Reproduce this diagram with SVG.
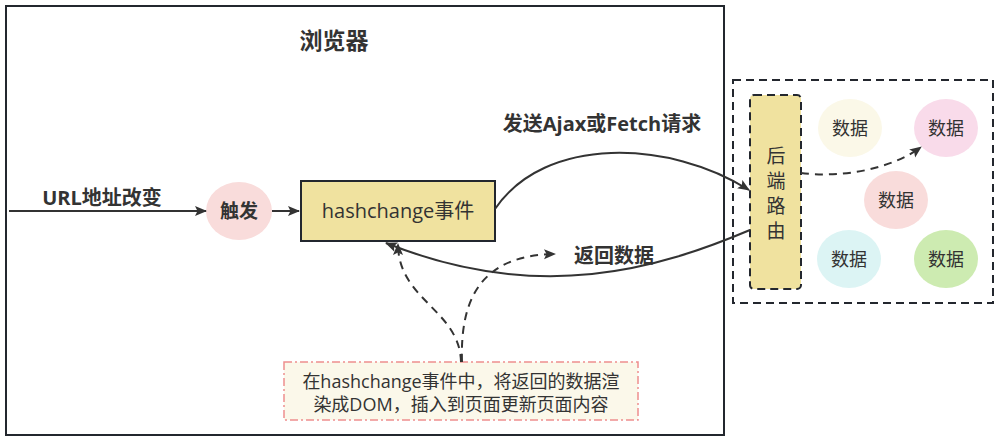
<svg xmlns="http://www.w3.org/2000/svg" width="999" height="441" viewBox="0 0 999 441">
<style>
.t{font-family:"Open Sans","Noto Sans CJK SC",sans-serif;fill:#333;}
.b{font-weight:bold;}
.ln{fill:none;stroke:#333;stroke-width:2;}
.dl{fill:none;stroke:#333;stroke-width:2;stroke-dasharray:8 6;}
.data{stroke:none;}
</style>
<defs>
<marker id="ahb" viewBox="0 0 12 12" refX="11" refY="6" markerWidth="12" markerHeight="12" markerUnits="userSpaceOnUse" orient="auto">
<path d="M0,1 L12,6 L0,11 L2.5,6 Z" fill="#333"/>
</marker>
</defs>
<rect width="999" height="441" fill="#fff"/>
<g id="browser">
<rect x="6" y="6" width="718" height="429" fill="none" stroke="#23272e" stroke-width="2"/>
<text class="t b" x="334" y="49" font-size="23" text-anchor="middle">浏览器</text>
</g>
<g id="backend">
<rect x="733" y="80" width="260" height="223" fill="none" stroke="#23272e" stroke-width="2" stroke-dasharray="8 5"/>
</g>
<g id="trigger">
<ellipse cx="239" cy="211" rx="33" ry="29" fill="#f9dcdb"/>
<text class="t b" x="239" y="218" font-size="19" text-anchor="middle">触发</text>
</g>
<g id="hashchange">
<rect x="301" y="181" width="194" height="60" fill="#f0e29f" stroke="#23272e" stroke-width="2"/>
<text class="t" x="398" y="218" font-size="20" text-anchor="middle">hashchange事件</text>
</g>
<g id="router">
<rect x="750" y="95" width="51" height="194" rx="4" fill="#f0e29f" stroke="#23272e" stroke-width="2" stroke-dasharray="8 5"/>
<text class="t" x="776" y="163" font-size="19" text-anchor="middle">后</text>
<text class="t" x="776" y="188" font-size="19" text-anchor="middle">端</text>
<text class="t" x="776" y="213" font-size="19" text-anchor="middle">路</text>
<text class="t" x="776" y="238" font-size="19" text-anchor="middle">由</text>
</g>
<g id="data1"><ellipse class="data" cx="850" cy="128" rx="32" ry="29" fill="#fbf8e8"/><text class="t" x="850" y="135" font-size="18" text-anchor="middle">数据</text></g>
<g id="data2"><ellipse class="data" cx="946" cy="128" rx="32" ry="29" fill="#f9dbea"/><text class="t" x="946" y="135" font-size="18" text-anchor="middle">数据</text></g>
<g id="data3"><ellipse class="data" cx="896" cy="200" rx="32" ry="29" fill="#f9dcdb"/><text class="t" x="896" y="207" font-size="18" text-anchor="middle">数据</text></g>
<g id="data4"><ellipse class="data" cx="849" cy="259" rx="32" ry="29" fill="#dcf4f4"/><text class="t" x="849" y="266" font-size="18" text-anchor="middle">数据</text></g>
<g id="data5"><ellipse class="data" cx="946" cy="259" rx="32" ry="29" fill="#cdebb1"/><text class="t" x="946" y="266" font-size="18" text-anchor="middle">数据</text></g>
<g id="note">
<rect x="284" y="362" width="354" height="58" fill="#fbf8ea" stroke="#ee8e8e" stroke-width="1.5" stroke-dasharray="8 3 2 3"/>
<text class="t" x="461" y="388" font-size="18" text-anchor="middle">在hashchange事件中，将返回的数据渲</text>
<text class="t" x="461" y="411" font-size="18" text-anchor="middle">染成DOM，插入到页面更新页面内容</text>
</g>
<g id="connectors">
<line class="ln" x1="9" y1="211" x2="206" y2="211" marker-end="url(#ahb)"/>
<text class="t b" x="102" y="205" font-size="20" text-anchor="middle">URL地址改变</text>
<line class="ln" x1="272" y1="211" x2="299" y2="211" marker-end="url(#ahb)"/>
<path class="ln" d="M495,209 C545,135 670,140 749,190" marker-end="url(#ahb)"/>
<text class="t b" x="602" y="131" font-size="20" text-anchor="middle">发送Ajax或Fetch请求</text>
<path class="ln" d="M750,230 C660,268 540,305 386,243" marker-end="url(#ahb)"/>
<text class="t b" x="614" y="263" font-size="20" text-anchor="middle">返回数据</text>
<path class="dl" d="M801,173 C840,178 890,170 921,147" marker-end="url(#ahb)"/>
<path class="dl" d="M461,362 C460,310 398,300 398,244" marker-end="url(#ahb)"/>
<path class="dl" d="M462,362 C460,300 480,255 555,254" marker-end="url(#ahb)"/>
</g>
</svg>
